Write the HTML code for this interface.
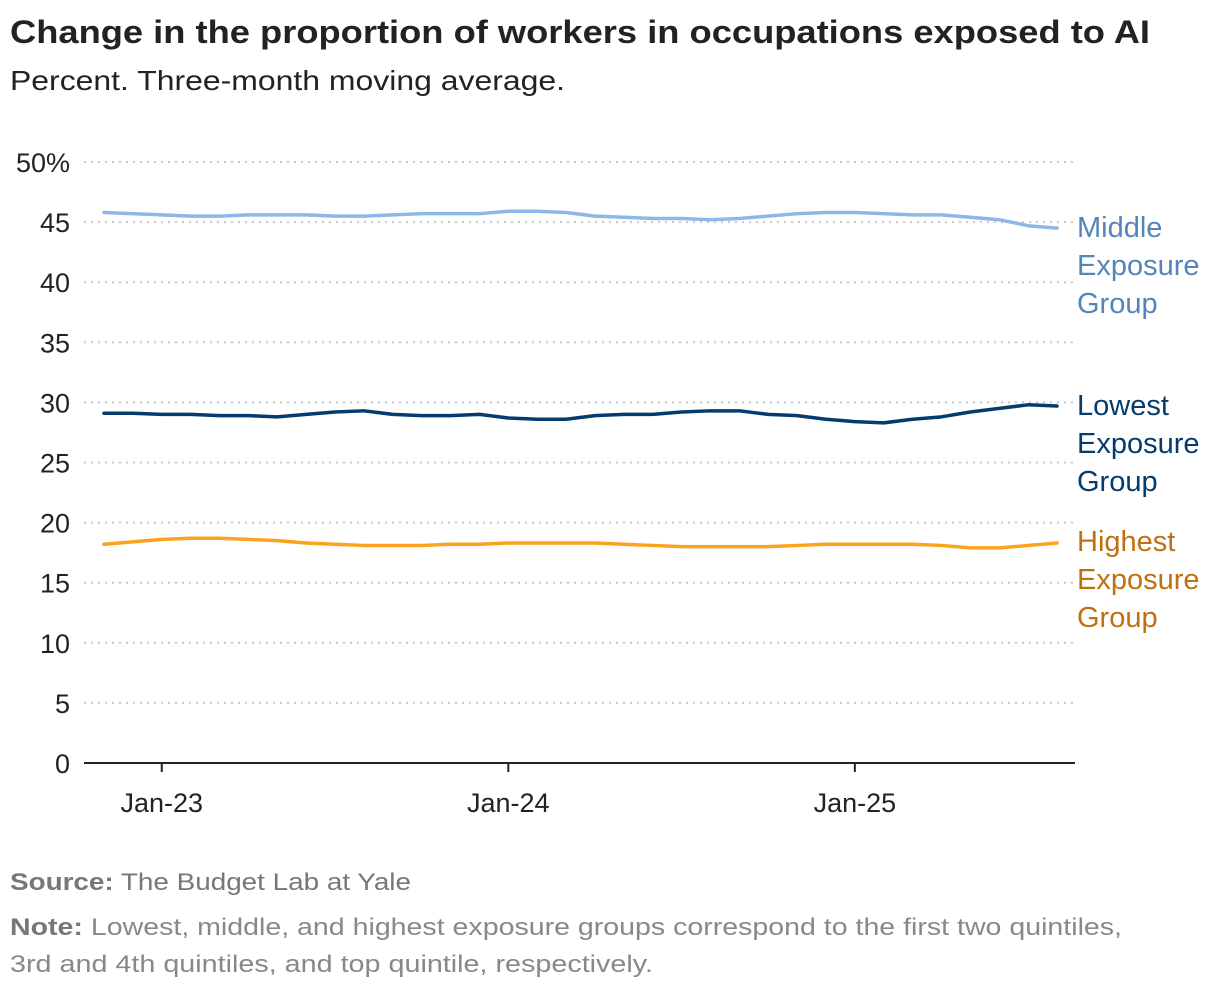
<!DOCTYPE html>
<html><head><meta charset="utf-8"><style>
body{margin:0;background:#fff;font-family:"Liberation Sans",sans-serif;}
svg text{font-family:"Liberation Sans",sans-serif;}
</style></head><body>
<svg id="c" width="1220" height="992">
<text x="10" y="43" font-size="32" font-weight="bold" fill="#222" textLength="1140" lengthAdjust="spacingAndGlyphs">Change in the proportion of workers in occupations exposed to AI</text>
<text x="10" y="90" font-size="28" fill="#222" textLength="555" lengthAdjust="spacingAndGlyphs">Percent. Three-month moving average.</text>
<g id="grid"></g><g id="lines"></g><g id="labels"></g>
<text x="10" y="890" font-size="24" fill="#777" textLength="401" lengthAdjust="spacingAndGlyphs"><tspan font-weight="bold">Source:</tspan> The Budget Lab at Yale</text>
<text x="10" y="935" font-size="24" fill="#888" textLength="1112" lengthAdjust="spacingAndGlyphs"><tspan font-weight="bold" fill="#777">Note:</tspan> Lowest, middle, and highest exposure groups correspond to the first two quintiles,</text>
<text x="10" y="972" font-size="24" fill="#888" textLength="643" lengthAdjust="spacingAndGlyphs">3rd and 4th quintiles, and top quintile, respectively.</text>
</svg>
<script>
const yTicks=[0,5,10,15,20,25,30,35,40,45,50];
const xTickLabels=["Jan-23","Jan-24","Jan-25"];
const xTickIndex=[2,14,26];
const middle=[45.8,45.7,45.6,45.5,45.5,45.6,45.6,45.6,45.5,45.5,45.6,45.7,45.7,45.7,45.9,45.9,45.8,45.5,45.4,45.3,45.3,45.2,45.3,45.5,45.7,45.8,45.8,45.7,45.6,45.6,45.4,45.2,44.7,44.5];
const lowest=[29.1,29.1,29.0,29.0,28.9,28.9,28.8,29.0,29.2,29.3,29.0,28.9,28.9,29.0,28.7,28.6,28.6,28.9,29.0,29.0,29.2,29.3,29.3,29.0,28.9,28.6,28.4,28.3,28.6,28.8,29.2,29.5,29.8,29.7];
const highest=[18.2,18.4,18.6,18.7,18.7,18.6,18.5,18.3,18.2,18.1,18.1,18.1,18.2,18.2,18.3,18.3,18.3,18.3,18.2,18.1,18.0,18.0,18.0,18.0,18.1,18.2,18.2,18.2,18.2,18.1,17.9,17.9,18.1,18.3];
const NS="http://www.w3.org/2000/svg";
const X=i=>104+i*(1057-104)/33;
const Y=v=>763-v*(763-162)/50;
function mk(t,a,p){const e=document.createElementNS(NS,t);for(const k in a)e.setAttribute(k,a[k]);p.appendChild(e);return e;}
const g=document.getElementById('grid');
yTicks.forEach(v=>{
  if(v>0){const l=mk('line',{x1:84,x2:1075,y1:Y(v),y2:Y(v),stroke:'#c8c8c8','stroke-width':2,'stroke-dasharray':'2 5'},g);
  
  }
  const t=mk('text',{x:70,y:Y(v)+10,'font-size':27,fill:'#222','text-anchor':'end'},g);
  t.textContent=v===50?'50%':String(v);
  
  
});
const ax=mk('line',{x1:84,x2:1075,y1:763,y2:763,stroke:'#222','stroke-width':2},g);


xTickLabels.forEach((s,k)=>{
  const x=X(xTickIndex[k]);
  const tk=mk('line',{x1:x,x2:x,y1:763,y2:772,stroke:'#222','stroke-width':2},g);
  
  
  const t=mk('text',{x:x,y:812,'font-size':27,fill:'#222','text-anchor':'middle'},g);
  t.textContent=s;
  
  
});
const L=document.getElementById('lines');
[[middle,'#8cb8e6','middle-exposure-line'],[lowest,'#063b6e','lowest-exposure-line'],[highest,'#fba21e','highest-exposure-line']].forEach(([d,c,n])=>{
  const p=mk('polyline',{points:d.map((v,i)=>X(i)+','+Y(v)).join(' '),fill:'none',stroke:c,'stroke-width':3.5,'stroke-linejoin':'round','stroke-linecap':'round'},L);
  
  
});
const lab=document.getElementById('labels');
[[['Middle','Exposure','Group'],237,'#5585b8','middle-label'],[['Lowest','Exposure','Group'],415,'#063b6e','lowest-label'],[['Highest','Exposure','Group'],551,'#c0700f','highest-label']].forEach(([ls,y,c,n])=>{
  const t=mk('text',{x:1077,y:y,'font-size':29,fill:c},lab);
  
  
  ls.forEach((s,i)=>{const ts=mk('tspan',{x:1077,y:y+i*38},t);ts.textContent=s;});
});
</script>
</body></html>
